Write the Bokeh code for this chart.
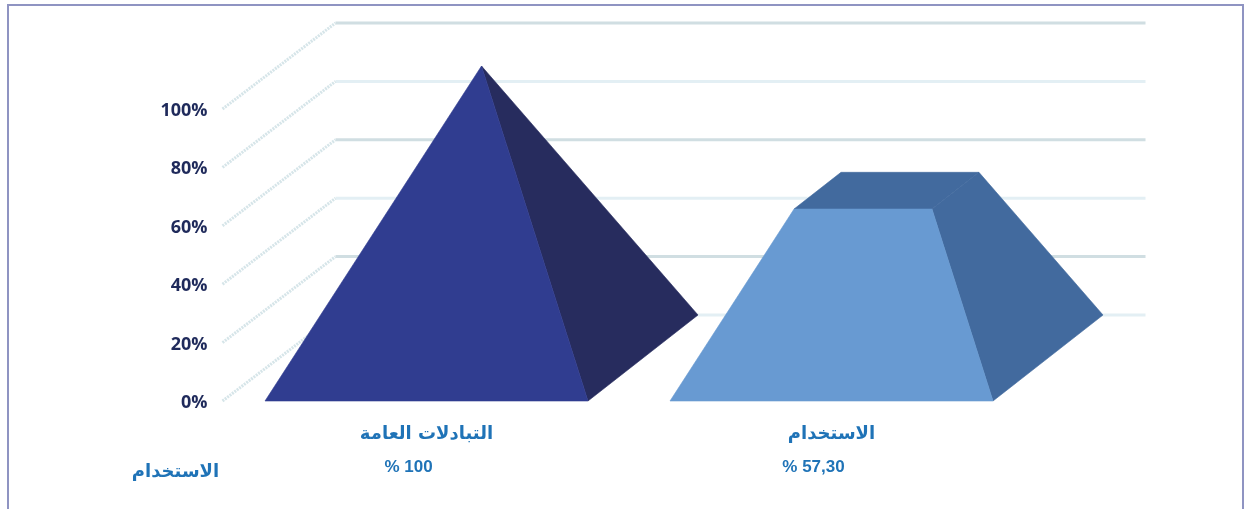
from bokeh.plotting import figure
from bokeh.models import (Range1d, LinearAxis, FixedTicker, PrintfTickFormatter)
from bokeh.core.properties import value
from bokeh.embed import file_html
from bokeh.resources import INLINE

categories = ["التبادلات العامة", "الاستخدام"]
values = [100, 57.3]
value_labels = ["% 100", "% 57,30"]
row_label = "الاستخدام"
y_ticks = [0, 20, 40, 60, 80, 100]

FRONT = ["#303d90", "#689ad2"]
SIDE = ["#272c5e", "#426a9e"]
GRID = ["#e3eff4", "#d0dee2"]
TICK_COL = "#1f2a5b"
BLUE = "#1f73b7"

# scales: px per unit
SX, SY = 405.0, 2.92
X0_PX, Y0_PX = 426.0, 400.5
L, R, T, B = 215, 1160, 15, 405
HALF = 161.5 / SX          # half width of a solid's base
DX_SOLID = 110 / SX        # depth offset of a solid
DX_WALL = 113 / SX         # depth offset of the chart walls
DY = 86 / SY               # depth offset, in value units
WALL_LEFT = (222 - X0_PX) / SX
WALL_RIGHT = (1145 - X0_PX) / SX

frame_css = """:host::after {content: ''; position: absolute; left: 7px; top: 4px; right: 2px; height: 600px;
  border: 2px solid #8f94c2; pointer-events: none; box-sizing: border-box;}"""

p = figure(frame_width=R - L, frame_height=B - T,
           min_border_left=L, min_border_right=1246 - R, min_border_top=T, min_border_bottom=509 - B,
           x_range=Range1d((L - X0_PX) / SX, (R - X0_PX) / SX),
           y_range=Range1d((Y0_PX - B) / SY, (Y0_PX - T) / SY),
           output_backend="svg", toolbar_location=None, x_axis_location=None, y_axis_location=None,
           background_fill_color=None, border_fill_color="white", outline_line_color=None,
           styles={"position": "fixed", "left": "0px", "top": "0px", "overflow": "hidden"},
           stylesheets=[frame_css])
p.grid.visible = False

# walls
for i, t in enumerate(y_ticks):
    col = GRID[i % 2]
    p.line([WALL_LEFT + DX_WALL, WALL_RIGHT], [t + DY, t + DY], line_color=col, line_width=3)
    p.line([WALL_LEFT, WALL_LEFT + DX_WALL], [t, t + DY], line_color="#d6e5e9", line_width=3, line_dash="2 1")

# solids: pyramid cut at value/100 of its height
APEX = max(y_ticks)
for i, v in enumerate(values):
    f = v / APEX
    cx, cy = i + DX_SOLID / 2, DY / 2
    ax, ay = cx, cy + APEX
    def cut(x, y):
        return x + (ax - x) * f, y + (ay - y) * f
    fl = (i - HALF, 0)
    fr = (i + HALF, 0)
    br = (i + HALF + DX_SOLID, DY)
    bl = (i - HALF + DX_SOLID, DY)
    faces = [([fr, br, cut(*br), cut(*fr)], SIDE[i]),
             ([fl, fr, cut(*fr), cut(*fl)], FRONT[i])]
    if f < 1:
        faces.insert(0, ([cut(*fl), cut(*fr), cut(*br), cut(*bl)], SIDE[i]))
    for pts, col in faces:
        p.patch([q[0] for q in pts], [q[1] for q in pts], fill_color=col, line_color=col, line_width=0.6)

# axes
ya = LinearAxis(ticker=FixedTicker(ticks=y_ticks), formatter=PrintfTickFormatter(format="%d%%"),
                axis_line_color=None, major_tick_line_color=None, minor_tick_line_color=None,
                major_label_standoff=2, major_label_text_color=TICK_COL,
                major_label_text_font="Open Sans", major_label_text_font_style="bold",
                major_label_text_font_size="18px")
p.add_layout(ya, "left")

xs = list(range(len(categories)))
xa = LinearAxis(ticker=FixedTicker(ticks=xs), major_label_overrides={x: c for x, c in zip(xs, categories)},
                axis_line_color=None, major_tick_line_color=None, minor_tick_line_color=None,
                major_label_standoff=10, major_label_text_color=BLUE,
                major_label_text_font="DejaVu Sans", major_label_text_font_style="bold",
                major_label_text_font_size="18px")
p.add_layout(xa, "below")

shift = -18 / SX
vx = [x + shift for x in xs]
va = LinearAxis(ticker=FixedTicker(ticks=vx), major_label_overrides={x: c for x, c in zip(vx, value_labels)},
                axis_line_color=None, major_tick_line_color=None, minor_tick_line_color=None,
                major_label_standoff=5, major_label_text_color=BLUE,
                major_label_text_font="Liberation Sans", major_label_text_font_style="bold",
                major_label_text_font_size="17px")
p.add_layout(va, "below")

# row label, in a small transparent figure laid over the page
q = figure(width=110, height=30, x_range=Range1d(0, 1), y_range=Range1d(0, 1), min_border=0,
           output_backend="svg", toolbar_location=None, x_axis_location=None, y_axis_location=None,
           background_fill_color=None, border_fill_color=None, outline_line_color=None,
           styles={"position": "fixed", "left": "120px", "top": "455px"})
q.grid.visible = False
q.text([0.5], [0.5], text=[row_label], text_align="center", text_baseline="middle", text_color=BLUE,
       text_font=value("DejaVu Sans"), text_font_style="bold", text_font_size="18px")

open("out.html", "w").write(file_html([p, q], INLINE))
